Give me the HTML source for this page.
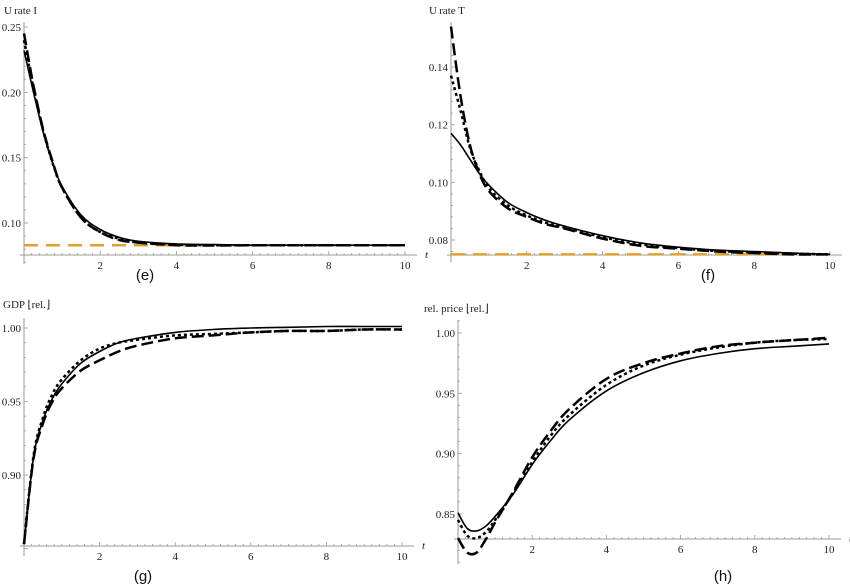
<!DOCTYPE html>
<html><head><meta charset="utf-8"><style>
body{margin:0;background:#fff;width:850px;height:586px;overflow:hidden}
svg{display:block}
text{font-family:"Liberation Serif",serif;font-size:11px;fill:#222}
.cap{font-family:"Liberation Sans",sans-serif;font-size:15px;fill:#111}
</style></head><body>
<svg id="chart" width="850" height="586"></svg>
<script>
const tVals=[0,0.25,0.5,0.75,1,1.5,2,2.5,3,4,5,6,7,8,9,10];
// panel e
const eSolid=[0.232,0.200,0.170,0.146,0.128,0.106,0.095,0.089,0.086,0.084,0.0835,0.083,0.083,0.083,0.083,0.083];
const eDotted=[0.240,0.203,0.171,0.146,0.127,0.104,0.093,0.088,0.085,0.0835,0.083,0.083,0.083,0.083,0.083,0.083];
const eDashed=[0.245,0.205,0.172,0.147,0.127,0.104,0.093,0.087,0.085,0.083,0.0828,0.083,0.083,0.083,0.083,0.083];
const eBase=0.083;
// panel f
const fSolid=[0.117,0.113,0.108,0.103,0.099,0.093,0.0895,0.0868,0.0848,0.0815,0.079,0.0775,0.0765,0.076,0.0755,0.075];
const fDotted=[0.137,0.125,0.112,0.104,0.098,0.092,0.0885,0.086,0.0843,0.081,0.0785,0.0772,0.0762,0.0757,0.0753,0.075];
const fDashed=[0.154,0.130,0.113,0.103,0.097,0.091,0.088,0.0855,0.084,0.0805,0.078,0.077,0.076,0.0755,0.075,0.075];
const fBase=0.075;
// panel g
const gSolid=[0.853,0.912,0.937,0.952,0.962,0.976,0.984,0.990,0.993,0.997,0.999,1.000,1.0005,1.001,1.001,1.001];
const gDotted=[0.853,0.913,0.939,0.955,0.965,0.978,0.986,0.990,0.992,0.995,0.996,0.997,0.998,0.998,0.999,0.999];
const gDashed=[0.853,0.911,0.935,0.950,0.959,0.971,0.978,0.984,0.988,0.993,0.995,0.997,0.998,0.998,0.999,0.999];
// panel h
const hSolid=[0.851,0.838,0.836,0.840,0.848,0.867,0.891,0.911,0.928,0.952,0.967,0.977,0.983,0.987,0.989,0.991];
const hDotted=[0.845,0.832,0.830,0.835,0.845,0.868,0.893,0.915,0.932,0.957,0.973,0.982,0.988,0.992,0.994,0.995];
const hDashed=[0.830,0.818,0.818,0.829,0.843,0.869,0.897,0.919,0.937,0.962,0.975,0.983,0.989,0.992,0.994,0.996];
const xTicks=[2,4,6,8,10];
const eTicks=[0.10,0.15,0.20,0.25];
const fTicks=[0.08,0.10,0.12,0.14];
const gTicks=[0.90,0.95,1.00];
const hTicks=[0.85,0.90,0.95,1.00];

const svg=document.getElementById('chart');
const NS='http://www.w3.org/2000/svg';
function mk(tag,attrs,parent){const e=document.createElementNS(NS,tag);for(const k in attrs)e.setAttribute(k,attrs[k]);(parent||svg).appendChild(e);return e;}
function smooth(pts){
  let d='M'+pts[0][0].toFixed(1)+','+pts[0][1].toFixed(1);
  for(let i=0;i<pts.length-1;i++){
    const p0=pts[Math.max(0,i-1)],p1=pts[i],p2=pts[i+1],p3=pts[Math.min(pts.length-1,i+2)];
    const c1=[p1[0]+(p2[0]-p0[0])/6,p1[1]+(p2[1]-p0[1])/6];
    const c2=[p2[0]-(p3[0]-p1[0])/6,p2[1]-(p3[1]-p1[1])/6];
    d+='C'+c1[0].toFixed(1)+','+c1[1].toFixed(1)+' '+c2[0].toFixed(1)+','+c2[1].toFixed(1)+' '+p2[0].toFixed(1)+','+p2[1].toFixed(1);
  }
  return d;
}

function panel(o){
  const g=mk('g',{});
  
  
  const X=t=>o.x0+(o.x1-o.x0)*t/10;
  const Y=v=>o.yA+(o.yB-o.yA)*(v-o.vA)/(o.vB-o.vA);
  const xa=mk('line',{x1:o.x0-4,x2:o.x1+12,y1:o.axisY,y2:o.axisY,stroke:'#999','stroke-width':1},g);
  
  
  const ya=mk('line',{x1:o.x0,x2:o.x0,y1:o.yTop,y2:o.yBot,stroke:'#999','stroke-width':1},g);
  
  
  for(let i=1;i<=50;i++){const t=i*0.2;const big=i%10===0;
    mk('line',{x1:X(t),x2:X(t),y1:o.axisY,y2:o.axisY-(big?4:2),stroke:'#999','stroke-width':0.8},g);}
  xTicks.forEach(t=>{const l=mk('text',{x:X(t),y:o.axisY+14,'text-anchor':'middle'},g);l.textContent=t;
    
    });
  const step=(o.ticks[1]-o.ticks[0])/5;
  for(let v=o.ticks[0]-5*step;v<=o.ticks[o.ticks.length-1]+5*step+1e-9;v+=step){const y=Y(v);if(y<o.yTop||y>o.yBot)continue;
    const big=Math.abs((v-o.ticks[0])/step/5-Math.round((v-o.ticks[0])/step/5))<1e-6;
    mk('line',{x1:o.x0,x2:o.x0+(big?4:2),y1:y,y2:y,stroke:'#999','stroke-width':0.8},g);}
  o.ticks.forEach(v=>{const l=mk('text',{x:o.x0-3,y:Y(v)+4,'text-anchor':'end'},g);l.textContent=v.toFixed(2);
    
    });
  const tl=mk('text',{x:o.x1+20,y:o.axisY+3,'font-style':'italic'},g);tl.textContent='t';
  
  
  const yt=mk('text',{x:o.titleX,y:o.titleY,'font-size':'10'},g);yt.textContent=o.title;
  
  
  const cp=mk('text',{x:o.capX,y:o.capY,'text-anchor':'middle',class:'cap'},g);cp.textContent=o.cap;
  
  
  if(o.base!==undefined){const b=mk('line',{x1:X(0),x2:X(10),y1:Y(o.base),y2:Y(o.base),stroke:'#e0a030','stroke-width':2.5,'stroke-dasharray':'14,8'},g);
    
    }
  const styles=[['solid','',1.6],['dotted','3,3',2.5],['dashed','12,5',2.5]];
  o.series.forEach((s,i)=>{const pts=s.map((v,j)=>[X(tVals[j]),Y(v)]);
    const p=mk('path',{d:smooth(pts),fill:'none',stroke:'#000','stroke-width':styles[i][2],'stroke-dasharray':styles[i][1],'stroke-linejoin':'round'},g);
    
    });
}
panel({name:'panel-e',x0:24,x1:405,axisY:255,yTop:22,yBot:264,vA:0.25,yA:27,vB:0.10,yB:223,ticks:eTicks,
  title:'U\u2009rate  I',titleX:4,titleY:14,cap:'(e)',capX:145,capY:280,base:eBase,series:[eSolid,eDotted,eDashed]});
panel({name:'panel-f',x0:451,x1:830,axisY:255,yTop:22,yBot:262,vA:0.14,yA:67,vB:0.08,yB:240,ticks:fTicks,
  title:'U\u2009rate  T',titleX:429,titleY:14,cap:'(f)',capX:708,capY:280,base:fBase,series:[fSolid,fDotted,fDashed]});
panel({name:'panel-g',x0:24,x1:402,axisY:546,yTop:318,yBot:556,vA:1.00,yA:328,vB:0.90,yB:475,ticks:gTicks,
  title:'GDP  \u230arel.\u230b',titleX:3,titleY:308,cap:'(g)',capX:143,capY:581,series:[gSolid,gDotted,gDashed]});
panel({name:'panel-h',x0:458,x1:829,axisY:539,yTop:320,yBot:564,vA:1.00,yA:333,vB:0.85,yB:514,ticks:hTicks,
  title:'rel. price  \u230arel.\u230b',titleX:424,titleY:312,cap:'(h)',capX:723,capY:581,series:[hSolid,hDotted,hDashed]});
</script>
</body></html>
